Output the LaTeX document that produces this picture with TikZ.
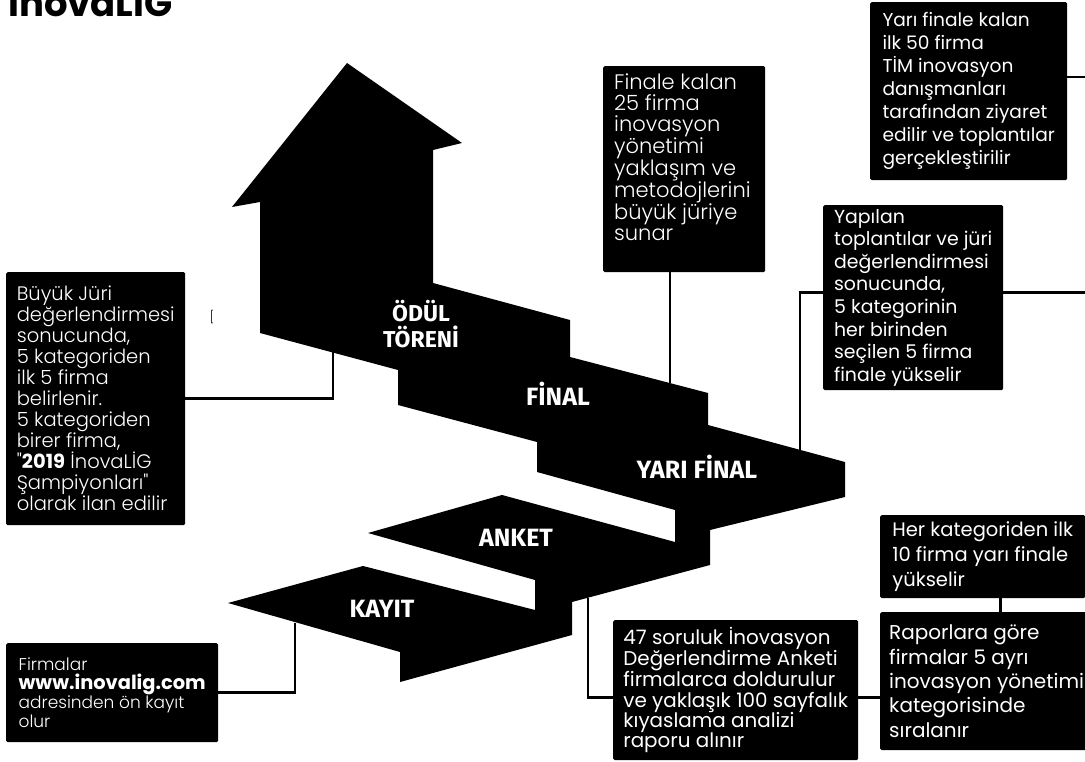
\documentclass[tikz,border=0pt]{standalone}
\usepackage{fontspec}
\setmainfont{Poppins}
\newfontfamily\thinfont{Poppins Light}
\newfontfamily\stepfont{Fira Sans}
\begin{document}
\begin{tikzpicture}[x=1pt,y=-1pt,
  infobox/.style={fill=black, text=white, rounded corners=1.5pt, anchor=north west, align=left, inner xsep=9pt, inner ysep=0pt},
  steplabel/.style={text=white, font=\stepfont\bfseries\fontsize{25}{25}\selectfont, align=center, inner sep=0pt, text height=18pt, text depth=0pt},
  link/.style={line width=2.6pt}]
\clip (0,0) rectangle (1085,762);
\node[anchor=base west, inner sep=0pt, font=\bfseries\fontsize{37}{37}\selectfont] (title) at (8,17) {inovaLIG};
\fill (347,63) -- (462,143) -- (433,150) -- (433,283) -- (570,320) -- (570,357) -- (708,393) -- (708,425)
  -- (845,462) -- (845,497) -- (710,530) -- (710,565) -- (572,602) -- (572,635) -- (400,682) -- (400,652)
  -- (228,603) -- (363,566) -- (535,610) -- (535,580) -- (368,533) -- (502,495) -- (675,542) -- (675,510)
  -- (537,472) -- (537,442) -- (398,405) -- (398,370) -- (260,333) -- (260,202) -- (232,207) -- cycle;
\coordinate (odul c) at (333,352);
\coordinate (final c) at (670,383);
\coordinate (yari c) at (800,450);
\coordinate (anket c) at (588,598);
\coordinate (kayit c) at (295,623);
\coordinate (right edge) at (1090,0);
\node[steplabel, font=\stepfont\bfseries\fontsize{23}{25}\selectfont, text height=16pt] (odul) at (421,339) {ÖDÜL\\TÖRENİ};
\node[steplabel] (final) at (558,396) {FİNAL};
\node[steplabel] (yari) at (697,469) {YARI FİNAL};
\node[steplabel] (anket) at (516,537) {ANKET};
\node[steplabel] (kayit) at (382,608) {KAYIT};
\node[inner sep=0pt, font=\thinfont\fontsize{12}{12}\selectfont] (mark) at (212,317) {[};
\node[infobox, minimum width=179pt, minimum height=253pt, font=\thinfont\fontsize{19.5}{21}\selectfont] (buyuk) at (6,272)
  {Büyük Jüri\\ değerlendirmesi\\ sonucunda,\\ 5 kategoriden\\ ilk 5 firma\\ belirlenir.\\ 5 kategoriden\\ birer firma,\\ "{\normalfont\bfseries 2019} İnovaLİG\\ Şampiyonları"\\ olarak ilan edilir};
\node[infobox, inner xsep=11pt, inner ysep=8pt, font=\thinfont\fontsize{21}{20.7}\selectfont] (finalebox) at (603,66)
  {\parbox[t][190pt][t]{140pt}{Finale kalan\\ 25 firma\\ inovasyon\\ yönetimi\\ yaklaşım ve\\ metodojlerini\\ büyük jüriye\\ sunar}};
\node[infobox, minimum width=212pt, minimum height=99pt, font=\thinfont\fontsize{17}{19}\selectfont] (firmalar) at (6,643)
  {Firmalar\\ {\normalfont\bfseries\fontsize{19.4}{19}\selectfont www.inovalig.com}\\ adresinden ön kayıt\\ olur};
\node[infobox, minimum width=197pt, minimum height=178pt, font=\fontsize{18.6}{23}\selectfont] (yarifinale) at (870,2)
  {Yarı finale kalan\\ ilk 50 firma\\ TİM inovasyon\\ danışmanları\\ tarafından ziyaret\\ edilir ve toplantılar\\ gerçekleştirilir};
\node[infobox, minimum width=180pt, minimum height=185pt, font=\fontsize{18.9}{22.6}\selectfont] (yapilan) at (823,205)
  {Yapılan\\ toplantılar ve jüri\\ değerlendirmesi\\ sonucunda,\\ 5 kategorinin\\ her birinden\\ seçilen 5 firma\\ finale yükselir};
\node[infobox, minimum width=205pt, minimum height=83pt, font=\fontsize{19.5}{25}\selectfont] (herkat) at (880,515)
  {Her kategoriden ilk\\ 10 firma yarı finale\\ yükselir};
\node[infobox, minimum width=245pt, minimum height=140pt, font=\fontsize{19.9}{20.4}\selectfont] (anket47) at (613,620)
  {47 soruluk İnovasyon\\ Değerlendirme Anketi\\ firmalarca doldurulur\\ ve yaklaşık 100 sayfalık\\ kıyaslama analizi\\ raporu alınır};
\node[infobox, minimum width=212pt, minimum height=138pt, font=\fontsize{20}{24.3}\selectfont] (raporlar) at (880,612)
  {Raporlara göre\\ firmalar 5 ayrı\\ inovasyon yönetimi\\ kategorisinde\\ sıralanır};
\draw[link] (odul c) |- (buyuk.east);
\draw[link] (final c) -- (final c |- finalebox.south);
\draw[link] (yari c) |- ([yshift=5pt]yapilan.west);
\draw[link] ([yshift=5pt]yapilan.east) -- ([yshift=5pt]yapilan.east -| right edge);
\draw[link] ([yshift=14pt]yarifinale.east) -- ([yshift=14pt]yarifinale.east -| right edge);
\draw[link] (kayit c) |- (firmalar.east);
\draw[link] (anket c) |- ([yshift=-7pt]anket47.west);
\draw[link] ([yshift=-7pt]anket47.east) -- ([yshift=-7pt]anket47.east -| raporlar.west);
\draw[link] ([xshift=17.5pt]herkat.south) -- ([xshift=17.5pt]herkat.south |- raporlar.north);
\end{tikzpicture}
\end{document}
